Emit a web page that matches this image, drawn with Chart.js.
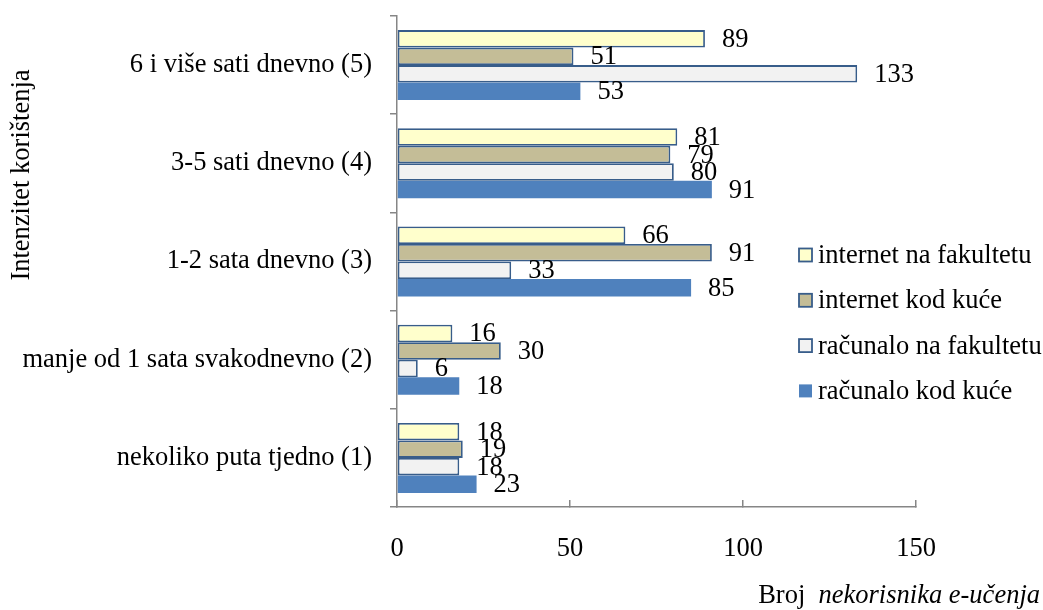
<!DOCTYPE html>
<html>
<head>
<meta charset="utf-8">
<script src="https://cdn.jsdelivr.net/npm/chart.js@4/dist/chart.umd.min.js"></script>
<style>
  html, body { margin: 0; padding: 0; background: #ffffff; }
  #wrap { width: 1043px; height: 610px; position: relative; }
</style>
</head>
<body>
<div id="wrap"><canvas id="c" width="1043" height="610"></canvas></div>
<script>
// ---- Data ----
const categories = [
  '6 i više sati dnevno (5)',
  '3-5 sati dnevno (4)',
  '1-2 sata dnevno (3)',
  'manje od 1 sata svakodnevno (2)',
  'nekoliko puta tjedno (1)'
];
const seriesNames = ['internet na fakultetu', 'internet kod kuće', 'računalo na fakultetu', 'računalo kod kuće'];
const internetFakultet = [89, 81, 66, 16, 18];
const internetKuca     = [51, 79, 91, 30, 19];
const racunaloFakultet = [133, 80, 33, 6, 18];
const racunaloKuca     = [53, 91, 85, 18, 23];
const xTicks = [0, 50, 100, 150];
const yTitle = 'Intenzitet korištenja';
const xTitlePlain = 'Broj  ';
const xTitleItalic = 'nekorisnika e-učenja';

// ---- Styles ----
const FONT = '"Liberation Serif", "Times New Roman", serif';
const FS = 26.5;
const fills = ['#FFFFCC', '#C4BD97', '#F2F2F2', '#4F81BD'];
const borders = ['#385D8A', '#385D8A', '#385D8A', '#4F81BD'];
const borderWidths = [1.8, 1.8, 1.8, 0];
const AXIS = '#868686';

const values = [internetFakultet, internetKuca, racunaloFakultet, racunaloKuca];
const datasets = seriesNames.map((n, i) => ({
  label: n,
  data: values[i],
  backgroundColor: fills[i],
  borderColor: borders[i],
  borderWidth: borderWidths[i],
  borderSkipped: false,
  categoryPercentage: 0.713,
  barPercentage: 1.0
}));

const labelsPlugin = {
  id: 'valueLabels',
  afterDatasetsDraw(chart) {
    const ctx = chart.ctx;
    ctx.save();
    ctx.font = FS + 'px ' + FONT;
    ctx.fillStyle = '#000';
    ctx.textAlign = 'left';
    ctx.textBaseline = 'middle';
    chart.data.datasets.forEach((ds, di) => {
      const meta = chart.getDatasetMeta(di);
      meta.data.forEach((el, j) => {
        ctx.fillText(String(ds.data[j]), el.x + 17, el.y + 1);
      });
    });
    ctx.restore();
  }
};

const extrasPlugin = {
  id: 'extras',
  afterDraw(chart) {
    const ctx = chart.ctx;
    ctx.save();
    // Legend
    ctx.font = FS + 'px ' + FONT;
    ctx.textBaseline = 'middle';
    ctx.textAlign = 'left';
    chart.data.datasets.forEach((ds, i) => {
      const cy = 255 + i * 45.3;
      ctx.fillStyle = ds.backgroundColor;
      ctx.fillRect(799, cy - 6.5, 13, 13);
      if (ds.borderWidth > 0) {
        ctx.strokeStyle = ds.borderColor;
        ctx.lineWidth = 1.8;
        ctx.strokeRect(799, cy - 6.5, 13, 13);
      }
      ctx.fillStyle = '#000';
      ctx.fillText(ds.label, 818, cy + 1);
    });
    // Y axis title
    ctx.save();
    ctx.translate(29, 175);
    ctx.rotate(-Math.PI / 2);
    ctx.textAlign = 'center';
    ctx.textBaseline = 'alphabetic';
    ctx.fillText(yTitle, 0, 0);
    ctx.restore();
    // X axis title (mixed style), right aligned at 1040
    ctx.textBaseline = 'alphabetic';
    ctx.textAlign = 'left';
    ctx.font = 'italic ' + FS + 'px ' + FONT;
    const wI = ctx.measureText(xTitleItalic).width;
    ctx.font = FS + 'px ' + FONT;
    const wP = ctx.measureText(xTitlePlain).width;
    const x0 = 1040 - wI - wP;
    ctx.fillText(xTitlePlain, x0, 603);
    ctx.font = 'italic ' + FS + 'px ' + FONT;
    ctx.fillText(xTitleItalic, x0 + wP, 603);
    ctx.restore();
  }
};

new Chart(document.getElementById('c'), {
  type: 'bar',
  data: { labels: categories, datasets: datasets },
  options: {
    indexAxis: 'y',
    responsive: false,
    animation: false,
    layout: { padding: { top: 16, right: 127, left: 0, bottom: 0 } },
    plugins: { legend: { display: false }, tooltip: { enabled: false } },
    scales: {
      x: {
        min: 0, max: 150,
        afterBuildTicks(scale) { scale.ticks = xTicks.map(v => ({ value: v })); },
        afterFit(scale) { scale.height = 103; scale.paddingLeft = 0; scale.paddingRight = 0; },
        grid: { drawOnChartArea: false, color: AXIS, lineWidth: 1.5, tickLength: -7 },
        border: { color: AXIS, width: 1.5 },
        ticks: { font: { family: FONT, size: FS }, color: '#000', padding: 33, maxRotation: 0 }
      },
      y: {
        afterFit(scale) { scale.width = 397; scale.paddingTop = 0; scale.paddingBottom = 0; },
        grid: { drawOnChartArea: false, offset: true, color: AXIS, lineWidth: 1.5, tickLength: 7 },
        border: { color: AXIS, width: 1.5 },
        ticks: { font: { family: FONT, size: FS }, color: '#000', padding: 18, autoSkip: false }
      }
    }
  },
  plugins: [labelsPlugin, extrasPlugin]
});
</script>
</body>
</html>
